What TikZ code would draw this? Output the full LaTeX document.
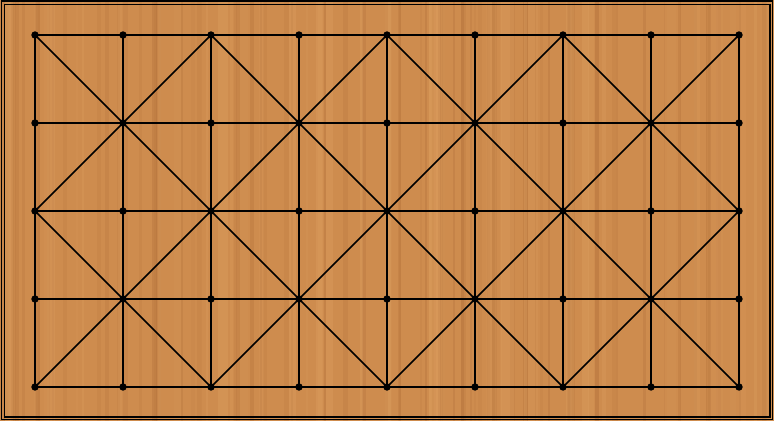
\documentclass[tikz,border=0pt]{standalone}
\usetikzlibrary{backgrounds}
\definecolor{woodBase}{RGB}{206,140,78}
\definecolor{woodDark}{RGB}{172,106,54}
\definecolor{woodLight}{RGB}{228,168,104}
\tikzset{
  boardDot/.style={circle, fill=black, inner sep=0pt, minimum size=2.4pt},
  boardLine/.style={black, line width=0.7pt},
  boardDiag/.style={black, line width=0.55pt},
  frameLine/.style={black, line width=0.4pt},
  grainDark/.style={woodDark},
  grainLight/.style={woodLight},
}

\begin{document}
\begin{tikzpicture}[x=1cm, y=-1cm]
%% Board surface
\useasboundingbox (-0.3977,-0.3977) rectangle (8.3977,4.3864);
\fill[woodBase] (-0.3977,-0.3977) rectangle (8.3977,4.3864);
\pgfmathsetseed{11}
\foreach \k in {1,...,80}{
  \pgfmathsetmacro{\gx}{-0.4+8.8*rnd}
  \pgfmathsetmacro{\gw}{0.01+0.05*rnd}
  \pgfmathsetmacro{\go}{0.08+0.20*rnd}
  \fill[grainDark, opacity=\go] (\gx,-0.3977) rectangle ({\gx+\gw},4.3864);
}
\foreach \k in {1,...,50}{
  \pgfmathsetmacro{\gx}{-0.4+8.8*rnd}
  \pgfmathsetmacro{\gw}{0.02+0.10*rnd}
  \pgfmathsetmacro{\go}{0.08+0.20*rnd}
  \fill[grainLight, opacity=\go] (\gx,-0.3977) rectangle ({\gx+\gw},4.3864);
}

%% Double frame
\draw[frameLine] (-0.3850,-0.3850) rectangle (8.3840,4.3730);
\draw[frameLine] (-0.3480,-0.3480) rectangle (8.3510,4.3400);

%% Points
\foreach \i in {0,...,8}
  \foreach \j in {0,...,4}
    \node[boardDot] (p-\i-\j) at (\i,\j) {};

%% Grid lines
\foreach \j in {0,...,4}
  \draw[boardLine] (p-0-\j.center) -- (p-8-\j.center);
\foreach \i in {0,...,8}
  \draw[boardLine] (p-\i-0.center) -- (p-\i-4.center);

%% Diagonals
\foreach \i in {0,...,7}
  \foreach \j in {0,...,3}{
    \pgfmathtruncatemacro{\ni}{\i+1}
    \pgfmathtruncatemacro{\nj}{\j+1}
    \pgfmathtruncatemacro{\cellpar}{mod(\i+\j,2)}
    \ifnum\cellpar=0
      \draw[boardDiag] (p-\i-\j.center) -- (p-\ni-\nj.center);
    \else
      \draw[boardDiag] (p-\ni-\j.center) -- (p-\i-\nj.center);
    \fi
  }
\end{tikzpicture}
\end{document}
